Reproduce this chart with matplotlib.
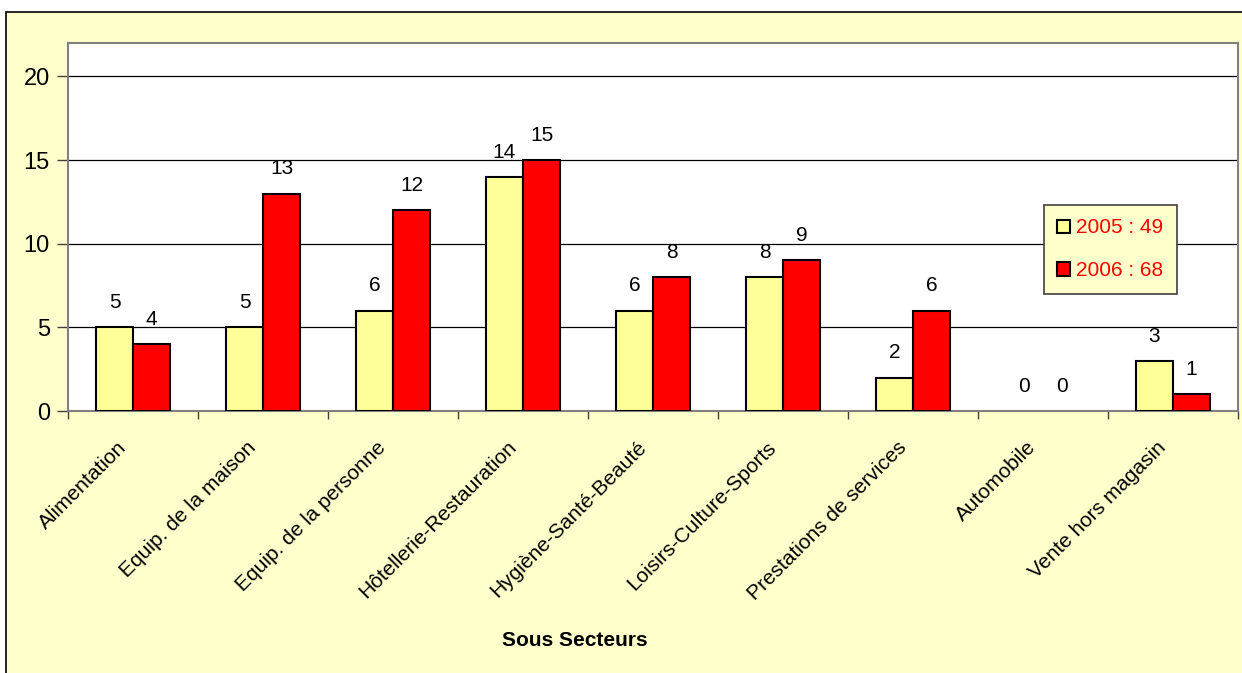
import matplotlib
matplotlib.use("Agg")
from matplotlib import pyplot as plt
from matplotlib.patches import Rectangle
from matplotlib.transforms import ScaledTranslation
import numpy as np

categories = ["Alimentation", "Equip. de la maison", "Equip. de la personne",
              "Hôtellerie-Restauration", "Hygiène-Santé-Beauté", "Loisirs-Culture-Sports",
              "Prestations de services", "Automobile", "Vente hors magasin"]
values_2005 = [5, 5, 6, 14, 6, 8, 2, 0, 3]
values_2006 = [4, 13, 12, 15, 8, 9, 6, 0, 1]
legend_labels = ["2005 : 49", "2006 : 68"]
yticks = [0, 5, 10, 15, 20]

plt.rcParams["font.family"] = ["Liberation Sans", "DejaVu Sans"]

fig = plt.figure(figsize=(12.42, 6.73), dpi=100, facecolor="white")
# chart area background with black frame
fig.patches.append(Rectangle((6 / 1242, -0.02), 1.05, 1 - 12 / 673 + 0.02,
                             transform=fig.transFigure, facecolor="#FFFFCC",
                             edgecolor="black", linewidth=1.2, zorder=-1))

ax = fig.add_axes([68 / 1242, 1 - 411 / 673, 1170 / 1242, 368 / 673])
ax.set_facecolor("white")

x = np.arange(len(categories))
w = 0.285
b1 = ax.bar(x - w / 2, values_2005, w, color="#FFFF99", edgecolor="black", linewidth=1.5,
            label=legend_labels[0], zorder=3)
b2 = ax.bar(x + w / 2, values_2006, w, color="#FF0000", edgecolor="black", linewidth=1.5,
            label=legend_labels[1], zorder=3)

for bars, vals in [(b1, values_2005), (b2, values_2006)]:
    for rect, v in zip(bars, vals):
        if v == 0:
            rect.set_linewidth(0)  # empty bar: no outline
        ax.annotate(str(v), (rect.get_x() + rect.get_width() / 2, v),
                    xytext=(0, 11), textcoords="offset points",
                    ha="center", va="bottom", fontsize=15)

ax.set_xlim(-0.5, len(categories) - 0.5)
ax.set_ylim(0, 22)
ax.set_yticks(yticks)
ax.tick_params(axis="y", labelsize=17, length=8, width=1, color="#404040", pad=5)
ax.yaxis.grid(True, color="black", linewidth=0.9, zorder=1)
ax.set_axisbelow(True)

ax.set_xticks(x)
ax.set_xticklabels(categories, rotation=45, ha="right", va="center",
                   rotation_mode="anchor", fontsize=15)
ax.tick_params(axis="x", which="major", length=0, pad=24)
shift = ScaledTranslation(-7 / 72, 0, fig.dpi_scale_trans)
for lbl in ax.get_xticklabels():
    lbl.set_transform(lbl.get_transform() + shift)
ax.set_xticks(np.arange(len(categories) + 1) - 0.5, minor=True)
ax.tick_params(axis="x", which="minor", length=6, width=1, color="#404040")

for s in ax.spines.values():
    s.set_color("#808080")
    s.set_linewidth(1.5)

leg = ax.legend(loc="upper left", bbox_to_anchor=(0.834, 0.56), fontsize=15,
                facecolor="#FFFFCC", edgecolor="#404040", fancybox=False,
                framealpha=1, handlelength=0.6, handleheight=0.6,
                handletextpad=0.3, labelspacing=1.15, borderpad=0.65,
                borderaxespad=0)
for t in leg.get_texts():
    t.set_color("red")
leg.get_frame().set_linewidth(1.2)

fig.text(575 / 1242, 1 - 640 / 673, "Sous Secteurs", ha="center", va="center",
         fontsize=15, fontweight="bold")

fig.savefig("out.png", dpi=100, facecolor=fig.get_facecolor())
